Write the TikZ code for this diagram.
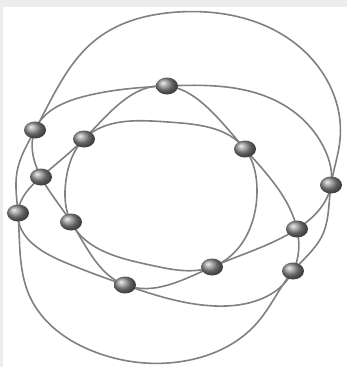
\documentclass[tikz,border=0pt]{standalone}
\usepackage{tkz-euclide}
\usetikzlibrary{shapes.geometric,hobby}
\definecolor{RingClr}{gray}{0.5}
\definecolor{KnotClr}{gray}{0.55}
\definecolor{FrameClr}{gray}{0.93}

\begin{document}
\begin{tikzpicture}[x=1bp,y=-1bp,
  ring/.style={draw=RingClr,line width=1.6bp},
  knot/.style={ellipse,inner sep=0pt,minimum width=22bp,minimum height=17bp,ball color=KnotClr}]
\useasboundingbox (0,0) rectangle (347,367);
\fill[FrameClr] (0,0) rectangle (347,367);
\fill[white] (3,7) rectangle (347,367);

\tkzDefPoints{167/86/A,35/130/B,84/139/C,245/149/D,41/177/E,331/185/F,18/213/G,71/222/H,297/229/I,212/267/J,293/271/K,125/285/L}

% outer ring
\draw[ring] plot[closed hobby] coordinates {(B) (98,38) (178,12) (303,50) (340,140) (F) (322,236) (K) (257,323) (178,362) (95,352) (30,297) (G) (17,172)};
% inner ring
\draw[ring] plot[closed hobby] coordinates {(C) (168,122) (D) (257,190) (J) (150,265) (H) (66,180)};
% wide ring
\draw[ring] plot[closed hobby] coordinates {(A) (287,107) (325,150) (F) (I) (J) (L) (H) (E) (B) (82,97)};
% tilted ring
\draw[ring] plot[closed hobby] coordinates {(A) (210,110) (D) (I) (K) (215,306) (L) (64,262) (G) (E) (C)};

\foreach \p in {A,...,L}
  \node[knot] (k\p) at (\p) {};

\end{tikzpicture}
\end{document}
